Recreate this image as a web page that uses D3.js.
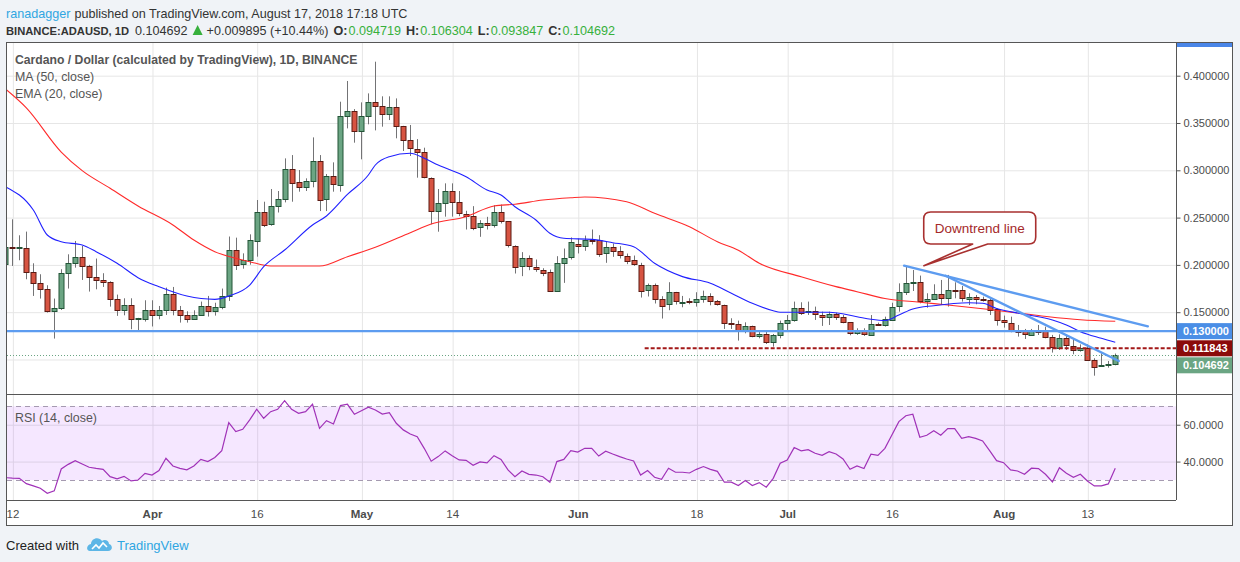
<!DOCTYPE html>
<html>
<head>
<meta charset="utf-8">
<script src="https://cdn.jsdelivr.net/npm/d3@7"></script>
<style>
  html, body { margin: 0; padding: 0; background: #f0f3f7; }
  svg { display: block; }
  text { font-family: "Liberation Sans", Arial, sans-serif; white-space: pre; }
</style>
</head>
<body>
<svg id="chart" width="1240" height="562"></svg>
<script>
// Bougies journalières ADA/USD : date, ouverture, plus haut, plus bas, clôture
const candles = [
  ["2018-03-11", 0.2014, 0.2225, 0.1985, 0.2190],
  ["2018-03-12", 0.2190, 0.2482, 0.1989, 0.2180],
  ["2018-03-13", 0.2180, 0.2313, 0.2049, 0.2185],
  ["2018-03-14", 0.2183, 0.2352, 0.1848, 0.1929],
  ["2018-03-15", 0.1929, 0.2017, 0.1672, 0.1813],
  ["2018-03-16", 0.1813, 0.1901, 0.1644, 0.1750],
  ["2018-03-17", 0.1750, 0.1785, 0.1496, 0.1517],
  ["2018-03-18", 0.1517, 0.1644, 0.1221, 0.1549],
  ["2018-03-19", 0.1545, 0.1954, 0.1524, 0.1919],
  ["2018-03-20", 0.1919, 0.2112, 0.1750, 0.2024],
  ["2018-03-21", 0.2024, 0.2253, 0.1971, 0.2088],
  ["2018-03-22", 0.2088, 0.2200, 0.1841, 0.1993],
  ["2018-03-23", 0.1993, 0.2000, 0.1718, 0.1876],
  ["2018-03-24", 0.1876, 0.2067, 0.1742, 0.1845],
  ["2018-03-25", 0.1845, 0.1912, 0.1767, 0.1820],
  ["2018-03-26", 0.1820, 0.1827, 0.1559, 0.1644],
  ["2018-03-27", 0.1644, 0.1686, 0.1461, 0.1527],
  ["2018-03-28", 0.1527, 0.1647, 0.1467, 0.1580],
  ["2018-03-29", 0.1580, 0.1647, 0.1320, 0.1432],
  ["2018-03-30", 0.1432, 0.1440, 0.1309, 0.1436],
  ["2018-03-31", 0.1432, 0.1626, 0.1401, 0.1527],
  ["2018-04-01", 0.1527, 0.1626, 0.1349, 0.1471],
  ["2018-04-02", 0.1471, 0.1566, 0.1425, 0.1527],
  ["2018-04-03", 0.1527, 0.1760, 0.1471, 0.1697],
  ["2018-04-04", 0.1697, 0.1767, 0.1467, 0.1527],
  ["2018-04-05", 0.1527, 0.1566, 0.1390, 0.1475],
  ["2018-04-06", 0.1475, 0.1510, 0.1390, 0.1432],
  ["2018-04-07", 0.1432, 0.1520, 0.1432, 0.1475],
  ["2018-04-08", 0.1475, 0.1612, 0.1471, 0.1570],
  ["2018-04-09", 0.1570, 0.1672, 0.1454, 0.1517],
  ["2018-04-10", 0.1517, 0.1600, 0.1464, 0.1560],
  ["2018-04-11", 0.1560, 0.1750, 0.1531, 0.1675],
  ["2018-04-12", 0.1675, 0.2300, 0.1619, 0.2158],
  ["2018-04-13", 0.2158, 0.2288, 0.1946, 0.2002],
  ["2018-04-14", 0.2002, 0.2122, 0.1960, 0.2048],
  ["2018-04-15", 0.2048, 0.2323, 0.2002, 0.2259],
  ["2018-04-16", 0.2259, 0.2686, 0.2087, 0.2562],
  ["2018-04-17", 0.2562, 0.2668, 0.2400, 0.2428],
  ["2018-04-18", 0.2428, 0.2802, 0.2414, 0.2619],
  ["2018-04-19", 0.2619, 0.2781, 0.2554, 0.2693],
  ["2018-04-20", 0.2693, 0.3126, 0.2661, 0.3010],
  ["2018-04-21", 0.3017, 0.3161, 0.2668, 0.2872],
  ["2018-04-22", 0.2872, 0.3003, 0.2774, 0.2820],
  ["2018-04-23", 0.2820, 0.2915, 0.2781, 0.2886],
  ["2018-04-24", 0.2886, 0.3348, 0.2820, 0.3094],
  ["2018-04-25", 0.3094, 0.3161, 0.2569, 0.2682],
  ["2018-04-26", 0.2689, 0.2961, 0.2569, 0.2936],
  ["2018-04-27", 0.2936, 0.3084, 0.2774, 0.2851],
  ["2018-04-28", 0.2837, 0.3725, 0.2774, 0.3570],
  ["2018-04-29", 0.3570, 0.3944, 0.3443, 0.3626],
  ["2018-04-30", 0.3626, 0.3647, 0.3292, 0.3412],
  ["2018-05-01", 0.3412, 0.3718, 0.3116, 0.3570],
  ["2018-05-02", 0.3570, 0.3813, 0.3486, 0.3718],
  ["2018-05-03", 0.3718, 0.4148, 0.3422, 0.3676],
  ["2018-05-04", 0.3676, 0.3782, 0.3461, 0.3591],
  ["2018-05-05", 0.3591, 0.3782, 0.3531, 0.3665],
  ["2018-05-06", 0.3665, 0.3760, 0.3338, 0.3468],
  ["2018-05-07", 0.3468, 0.3470, 0.3204, 0.3320],
  ["2018-05-08", 0.3320, 0.3479, 0.3151, 0.3232],
  ["2018-05-09", 0.3221, 0.3330, 0.2922, 0.3190],
  ["2018-05-10", 0.3190, 0.3239, 0.2915, 0.2922],
  ["2018-05-11", 0.2922, 0.2925, 0.2429, 0.2569],
  ["2018-05-12", 0.2569, 0.2802, 0.2351, 0.2650],
  ["2018-05-13", 0.2650, 0.2862, 0.2510, 0.2777],
  ["2018-05-14", 0.2777, 0.2862, 0.2510, 0.2660],
  ["2018-05-15", 0.2660, 0.2781, 0.2515, 0.2543],
  ["2018-05-16", 0.2543, 0.2572, 0.2374, 0.2522],
  ["2018-05-17", 0.2522, 0.2621, 0.2367, 0.2395],
  ["2018-05-18", 0.2395, 0.2473, 0.2297, 0.2438],
  ["2018-05-19", 0.2438, 0.2508, 0.2374, 0.2417],
  ["2018-05-20", 0.2417, 0.2631, 0.2395, 0.2554],
  ["2018-05-21", 0.2554, 0.2638, 0.2438, 0.2455],
  ["2018-05-22", 0.2459, 0.2462, 0.2184, 0.2205],
  ["2018-05-23", 0.2205, 0.2207, 0.1909, 0.1983],
  ["2018-05-24", 0.1983, 0.2135, 0.1881, 0.2068],
  ["2018-05-25", 0.2068, 0.2100, 0.1944, 0.1983],
  ["2018-05-26", 0.1973, 0.2057, 0.1927, 0.1951],
  ["2018-05-27", 0.1951, 0.1965, 0.1881, 0.1920],
  ["2018-05-28", 0.1923, 0.1951, 0.1715, 0.1719],
  ["2018-05-29", 0.1719, 0.2092, 0.1715, 0.2015],
  ["2018-05-30", 0.2015, 0.2173, 0.1810, 0.2068],
  ["2018-05-31", 0.2078, 0.2290, 0.2057, 0.2237],
  ["2018-06-01", 0.2226, 0.2279, 0.2121, 0.2205],
  ["2018-06-02", 0.2205, 0.2310, 0.2149, 0.2268],
  ["2018-06-03", 0.2268, 0.2374, 0.2216, 0.2254],
  ["2018-06-04", 0.2268, 0.2314, 0.2085, 0.2120],
  ["2018-06-05", 0.2120, 0.2244, 0.2022, 0.2184],
  ["2018-06-06", 0.2184, 0.2226, 0.2085, 0.2142],
  ["2018-06-07", 0.2142, 0.2198, 0.2068, 0.2099],
  ["2018-06-08", 0.2099, 0.2120, 0.2008, 0.2047],
  ["2018-06-09", 0.2047, 0.2099, 0.1990, 0.2001],
  ["2018-06-10", 0.2004, 0.2022, 0.1655, 0.1729],
  ["2018-06-11", 0.1729, 0.1803, 0.1666, 0.1786],
  ["2018-06-12", 0.1786, 0.1803, 0.1592, 0.1638],
  ["2018-06-13", 0.1638, 0.1669, 0.1433, 0.1567],
  ["2018-06-14", 0.1584, 0.1817, 0.1521, 0.1710],
  ["2018-06-15", 0.1710, 0.1715, 0.1581, 0.1611],
  ["2018-06-16", 0.1612, 0.1672, 0.1552, 0.1613],
  ["2018-06-17", 0.1619, 0.1647, 0.1584, 0.1605],
  ["2018-06-18", 0.1601, 0.1711, 0.1559, 0.1637],
  ["2018-06-19", 0.1637, 0.1728, 0.1601, 0.1668],
  ["2018-06-20", 0.1668, 0.1700, 0.1573, 0.1615],
  ["2018-06-21", 0.1615, 0.1629, 0.1570, 0.1584],
  ["2018-06-22", 0.1577, 0.1580, 0.1323, 0.1383],
  ["2018-06-23", 0.1386, 0.1436, 0.1323, 0.1372],
  ["2018-06-24", 0.1372, 0.1411, 0.1200, 0.1305],
  ["2018-06-25", 0.1305, 0.1393, 0.1277, 0.1351],
  ["2018-06-26", 0.1351, 0.1358, 0.1235, 0.1249],
  ["2018-06-27", 0.1245, 0.1290, 0.1224, 0.1266],
  ["2018-06-28", 0.1266, 0.1298, 0.1164, 0.1182],
  ["2018-06-29", 0.1182, 0.1270, 0.1136, 0.1259],
  ["2018-06-30", 0.1259, 0.1411, 0.1224, 0.1383],
  ["2018-07-01", 0.1383, 0.1470, 0.1312, 0.1414],
  ["2018-07-02", 0.1414, 0.1612, 0.1400, 0.1541],
  ["2018-07-03", 0.1541, 0.1605, 0.1471, 0.1489],
  ["2018-07-04", 0.1502, 0.1612, 0.1471, 0.1513],
  ["2018-07-05", 0.1513, 0.1559, 0.1418, 0.1478],
  ["2018-07-06", 0.1471, 0.1506, 0.1355, 0.1453],
  ["2018-07-07", 0.1446, 0.1506, 0.1365, 0.1481],
  ["2018-07-08", 0.1481, 0.1495, 0.1418, 0.1446],
  ["2018-07-09", 0.1446, 0.1470, 0.1383, 0.1393],
  ["2018-07-10", 0.1393, 0.1395, 0.1256, 0.1277],
  ["2018-07-11", 0.1277, 0.1330, 0.1260, 0.1312],
  ["2018-07-12", 0.1312, 0.1330, 0.1249, 0.1266],
  ["2018-07-13", 0.1259, 0.1470, 0.1249, 0.1376],
  ["2018-07-14", 0.1376, 0.1390, 0.1355, 0.1362],
  ["2018-07-15", 0.1362, 0.1453, 0.1348, 0.1425],
  ["2018-07-16", 0.1425, 0.1600, 0.1418, 0.1559],
  ["2018-07-17", 0.1559, 0.1805, 0.1506, 0.1710],
  ["2018-07-18", 0.1710, 0.1992, 0.1682, 0.1805],
  ["2018-07-19", 0.1805, 0.1946, 0.1724, 0.1816],
  ["2018-07-20", 0.1816, 0.1887, 0.1594, 0.1612],
  ["2018-07-21", 0.1612, 0.1700, 0.1548, 0.1636],
  ["2018-07-22", 0.1636, 0.1795, 0.1629, 0.1689],
  ["2018-07-23", 0.1689, 0.1841, 0.1576, 0.1647],
  ["2018-07-24", 0.1647, 0.1894, 0.1559, 0.1731],
  ["2018-07-25", 0.1735, 0.1816, 0.1647, 0.1724],
  ["2018-07-26", 0.1731, 0.1777, 0.1612, 0.1647],
  ["2018-07-27", 0.1636, 0.1700, 0.1576, 0.1657],
  ["2018-07-28", 0.1657, 0.1682, 0.1584, 0.1636],
  ["2018-07-29", 0.1640, 0.1664, 0.1612, 0.1626],
  ["2018-07-30", 0.1629, 0.1654, 0.1470, 0.1524],
  ["2018-07-31", 0.1531, 0.1541, 0.1358, 0.1414],
  ["2018-08-01", 0.1414, 0.1464, 0.1337, 0.1390],
  ["2018-08-02", 0.1390, 0.1453, 0.1288, 0.1302],
  ["2018-08-03", 0.1309, 0.1365, 0.1242, 0.1284],
  ["2018-08-04", 0.1302, 0.1323, 0.1217, 0.1266],
  ["2018-08-05", 0.1256, 0.1323, 0.1252, 0.1302],
  ["2018-08-06", 0.1302, 0.1365, 0.1259, 0.1291],
  ["2018-08-07", 0.1302, 0.1347, 0.1224, 0.1235],
  ["2018-08-08", 0.1235, 0.1260, 0.1073, 0.1125],
  ["2018-08-09", 0.1125, 0.1266, 0.1101, 0.1231],
  ["2018-08-10", 0.1224, 0.1266, 0.1101, 0.1150],
  ["2018-08-11", 0.1143, 0.1224, 0.1055, 0.1097],
  ["2018-08-12", 0.1097, 0.1160, 0.1083, 0.1118],
  ["2018-08-13", 0.1118, 0.1160, 0.0984, 0.0995],
  ["2018-08-14", 0.0998, 0.1013, 0.0829, 0.0925],
  ["2018-08-15", 0.0935, 0.1066, 0.0925, 0.0946],
  ["2018-08-16", 0.0946, 0.0984, 0.0914, 0.0949],
  ["2018-08-17", 0.094719, 0.106304, 0.093847, 0.104692]
];

// Moyenne mobile 50 jours
const ma50 = [
  ["2018-03-11", 0.386], ["2018-03-14", 0.366], ["2018-03-19", 0.3193], ["2018-03-22", 0.2996],
  ["2018-03-26", 0.281], ["2018-03-30", 0.2623], ["2018-04-04", 0.2422], ["2018-04-07", 0.2263],
  ["2018-04-10", 0.214], ["2018-04-13", 0.207], ["2018-04-15", 0.2034], ["2018-04-18", 0.1988],
  ["2018-04-25", 0.1988], ["2018-04-29", 0.2087], ["2018-05-03", 0.2186], ["2018-05-08", 0.234],
  ["2018-05-11", 0.2432], ["2018-05-16", 0.251], ["2018-05-20", 0.2623], ["2018-05-23", 0.2641],
  ["2018-05-27", 0.2686], ["2018-05-31", 0.271], ["2018-06-02", 0.2718], ["2018-06-08", 0.2668],
  ["2018-06-12", 0.2545], ["2018-06-17", 0.2404], ["2018-06-21", 0.2245], ["2018-06-24", 0.2155],
  ["2018-06-27", 0.2017], ["2018-07-03", 0.1875], ["2018-07-08", 0.177], ["2018-07-11", 0.1717],
  ["2018-07-15", 0.1645], ["2018-07-20", 0.1605], ["2018-07-24", 0.1576], ["2018-07-30", 0.1528],
  ["2018-08-06", 0.1465], ["2018-08-12", 0.142], ["2018-08-17", 0.1404]
];

// Moyenne mobile exponentielle 20 jours
const ema20 = [
  ["2018-03-11", 0.2827], ["2018-03-15", 0.258], ["2018-03-17", 0.2316], ["2018-03-19", 0.2245],
  ["2018-03-22", 0.221], ["2018-03-24", 0.214], ["2018-03-27", 0.2017], ["2018-03-30", 0.1865],
  ["2018-04-02", 0.177], ["2018-04-06", 0.1671], ["2018-04-10", 0.1636], ["2018-04-12", 0.1671],
  ["2018-04-15", 0.1787], ["2018-04-17", 0.1981], ["2018-04-20", 0.2157], ["2018-04-24", 0.2422],
  ["2018-04-26", 0.2517], ["2018-04-29", 0.2745], ["2018-05-02", 0.295], ["2018-05-03", 0.3056],
  ["2018-05-05", 0.3144], ["2018-05-08", 0.318], ["2018-05-10", 0.3127], ["2018-05-12", 0.3056],
  ["2018-05-16", 0.2932], ["2018-05-19", 0.2792], ["2018-05-21", 0.2739], ["2018-05-23", 0.2615],
  ["2018-05-26", 0.2475], ["2018-05-28", 0.2334], ["2018-05-30", 0.2281], ["2018-06-03", 0.227],
  ["2018-06-06", 0.2235], ["2018-06-09", 0.2192], ["2018-06-12", 0.2017], ["2018-06-16", 0.1876],
  ["2018-06-20", 0.1806], ["2018-06-23", 0.17], ["2018-06-26", 0.1594], ["2018-06-29", 0.1515],
  ["2018-06-30", 0.1499], ["2018-07-07", 0.1499], ["2018-07-11", 0.1452], ["2018-07-13", 0.1425],
  ["2018-07-15", 0.1412], ["2018-07-17", 0.147], ["2018-07-19", 0.1534], ["2018-07-22", 0.1569],
  ["2018-07-27", 0.16], ["2018-07-29", 0.1594], ["2018-07-31", 0.154], ["2018-08-04", 0.1478],
  ["2018-08-08", 0.1418], ["2018-08-10", 0.1365], ["2018-08-12", 0.1294], ["2018-08-15", 0.1224],
  ["2018-08-17", 0.1182]
];

// RSI (14) journalier, du 11 mars au 17 août
const rsiStart = "2018-03-11";
const rsi14 = [
  31.3, 31.0, 30.9, 28.0, 26.8, 25.5, 22.8, 24.1, 36.0, 38.5, 40.5, 38.7, 36.9, 36.3, 35.8, 31.8, 30.6, 32.0, 29.5, 30.0, 33.6,
  32.7, 35.1, 41.8, 37.6, 36.3, 35.5, 37.6, 41.2, 40.0, 42.2, 45.9, 61.1, 56.3, 57.5, 62.6, 68.4, 63.5, 67.1, 68.4, 73.1,
  68.4, 66.2, 67.1, 71.1, 58.0, 62.2, 60.4, 70.4, 71.1, 65.7,
  67.6, 69.5, 68.0, 65.8, 66.6, 60.8, 57.2, 55.0, 53.5, 47.2, 40.2, 42.7, 45.8, 43.2, 40.9, 40.7, 38.0, 39.8, 39.3, 43.2,
  41.2, 35.5, 31.8, 34.9, 33.1, 32.7, 31.8, 28.8, 40.0, 41.2, 45.9,
  45.2, 47.2, 47.2, 43.0, 45.6, 44.1, 42.7, 41.4, 40.3, 32.7, 35.1, 31.5, 30.4, 36.4, 34.2, 34.2, 33.8, 35.8, 37.3, 35.8,
  34.7, 28.8, 28.8, 27.0, 29.7, 27.0, 28.6, 26.1, 30.9, 39.1,
  40.9, 47.6, 45.8, 46.5, 44.5, 43.4, 45.4, 44.1, 41.4, 35.8, 37.6, 36.2, 44.0, 43.4, 47.2, 54.4, 61.7, 64.9, 65.7, 53.2,
  54.3, 56.8, 54.3, 57.9, 57.9, 52.6, 53.5, 52.6, 51.2, 45.9, 40.5,
  39.4, 35.5, 34.9, 33.1, 36.4, 36.2, 33.1, 29.0, 36.7, 33.7, 31.5, 33.1, 29.5, 26.8, 26.8, 27.9, 36.4
];

// Axes
const timeTicks = ["2018-03-12", "2018-04-01", "2018-04-16", "2018-05-01", "2018-05-14", "2018-06-01",
                   "2018-06-18", "2018-07-01", "2018-07-16", "2018-08-01", "2018-08-13"];
const timeLabels = ["12", "Apr", "16", "May", "14", "Jun", "18", "Jul", "16", "Aug", "13"];
const monthLabels = ["Apr", "May", "Jun", "Jul", "Aug"];
const priceGrid = [0.10, 0.15, 0.20, 0.25, 0.30, 0.35, 0.40];
const priceTicks = [0.15, 0.20, 0.25, 0.30, 0.35, 0.40];
const rsiTicks = [40, 60];
const rsiBand = [30, 70];

// Tracés manuels
const supportLevel = 0.13;
const breakdownLevel = 0.111843;
const breakdownFrom = "2018-06-10T14:00:00Z";
const lastClose = 0.104692;
const trendLines = [
  [["2018-07-17T18:00:00Z", 0.1992], ["2018-08-21T16:00:00Z", 0.1351]],
  [["2018-07-23T17:00:00Z", 0.1885], ["2018-08-17T12:00:00Z", 0.0984]]
];
const calloutText = "Downtrend line";
const calloutTip = ["2018-07-20T14:00:00Z", 0.1992];
const calloutBox = ["2018-07-28T14:00:00Z", 0.239];

// Couleurs
const upFill = "#6ba583", upLine = "#225437";
const downFill = "#d75442", downLine = "#5b1a13";
const wickColor = "#737375";
const drawBlue = "#5d9cf0";
const greenTxt = "#37b03c";

const svg = d3.select("#chart");

// Géométrie
const frame = { left: 6, top: 42, right: 1233, bottom: 526 };
const plotLeft = 7, plotRight = 1176;
const mainTop = 42, mainBottom = 394, rsiBottom = 500;

const x = d3.scaleUtc()
  .domain([d3.isoParse("2018-03-11T05:30:00Z"), d3.isoParse("2018-08-25T16:50:00Z")])
  .range([plotLeft, plotRight]);
const y = d3.scaleLinear().domain([0.06353, 0.43562]).range([mainBottom, mainTop]);
const yRsi = d3.scaleLinear().domain([19.15, 76.68]).range([rsiBottom, mainBottom]);

const day = d3.utcParse("%Y-%m-%d");
const bars = candles.map(([d, o, h, l, c]) => ({ date: day(d), o, h, l, c }));
const maPts = ma50.map(([d, v]) => ({ date: day(d), v }));
const emaPts = ema20.map(([d, v]) => ({ date: day(d), v }));
const rsiPts = rsi14.map((v, i) => ({ date: d3.utcDay.offset(day(rsiStart), i), v }));

// Fond du graphique
svg.append("rect")
  .attr("x", frame.left + 0.5).attr("y", frame.top + 0.5)
  .attr("width", frame.right - frame.left - 1).attr("height", frame.bottom - frame.top - 1)
  .attr("fill", "#fff");

const defs = svg.append("defs");
defs.append("clipPath").attr("id", "clipMain").append("rect")
  .attr("x", plotLeft).attr("y", mainTop).attr("width", plotRight - plotLeft).attr("height", mainBottom - mainTop);
defs.append("clipPath").attr("id", "clipRsi").append("rect")
  .attr("x", plotLeft).attr("y", mainBottom).attr("width", plotRight - plotLeft).attr("height", rsiBottom - mainBottom);

// Grille verticale (deux panneaux)
svg.append("g")
  .attr("class", "grid")
  .attr("transform", `translate(0,${rsiBottom})`)
  .call(d3.axisBottom(x).tickValues(timeTicks.map(day)).tickSize(-(rsiBottom - mainTop)).tickFormat(""))
  .call(g => g.select(".domain").remove())
  .call(g => g.selectAll("line").attr("stroke", "#e6e6e6").attr("transform", "translate(0.5,0)"));

// Grille horizontale du prix
svg.append("g")
  .attr("transform", `translate(${plotLeft},0)`)
  .call(d3.axisLeft(y).tickValues(priceGrid).tickSize(-(plotRight - plotLeft)).tickFormat(""))
  .call(g => g.select(".domain").remove())
  .call(g => g.selectAll("line").attr("stroke", "#e6e6e6"));

// Panneau RSI : bande 30-70
svg.append("rect")
  .attr("x", plotLeft).attr("width", plotRight - plotLeft)
  .attr("y", yRsi(rsiBand[1])).attr("height", yRsi(rsiBand[0]) - yRsi(rsiBand[1]))
  .attr("fill", "#9915ff").attr("fill-opacity", 0.1);

svg.append("g")
  .attr("transform", `translate(${plotLeft},0)`)
  .call(d3.axisLeft(yRsi).tickValues(rsiTicks).tickSize(-(plotRight - plotLeft)).tickFormat(""))
  .call(g => g.select(".domain").remove())
  .call(g => g.selectAll("line").attr("stroke", "#dcd0e6"));

svg.selectAll("line.band").data(rsiBand).join("line")
  .attr("class", "band")
  .attr("x1", plotLeft).attr("x2", plotRight)
  .attr("y1", d => Math.round(yRsi(d)) + 0.5).attr("y2", d => Math.round(yRsi(d)) + 0.5)
  .attr("stroke", "#a59ab0").attr("stroke-dasharray", "5,4");

// Bougies
const main = svg.append("g").attr("clip-path", "url(#clipMain)");
const px = d => Math.round(x(d.date)) + 0.5;

main.selectAll("line.wick").data(bars).join("line")
  .attr("class", "wick")
  .attr("x1", px).attr("x2", px)
  .attr("y1", d => y(d.h)).attr("y2", d => y(d.l))
  .attr("stroke", wickColor).attr("stroke-width", 1);

main.selectAll("rect.body").data(bars).join("rect")
  .attr("class", "body")
  .attr("x", d => px(d) - 2.5)
  .attr("width", 5)
  .attr("y", d => Math.round(y(Math.max(d.o, d.c))) + 0.5)
  .attr("height", d => Math.max(1, Math.round(Math.abs(y(d.o) - y(d.c)))))
  .attr("fill", d => d.c >= d.o ? upFill : downFill)
  .attr("stroke", d => d.c >= d.o ? upLine : downLine)
  .attr("stroke-width", 1);

// Moyennes mobiles
const avgLine = d3.line().x(d => x(d.date)).y(d => y(d.v)).curve(d3.curveMonotoneX);
main.append("path").datum(maPts).attr("d", avgLine)
  .attr("fill", "none").attr("stroke", "#ff2a2a").attr("stroke-width", 1.1);
main.append("path").datum(emaPts).attr("d", avgLine)
  .attr("fill", "none").attr("stroke", "#2020ff").attr("stroke-width", 1.1);

// Dernier cours (pointillés)
main.append("line")
  .attr("x1", plotLeft).attr("x2", plotRight)
  .attr("y1", Math.round(y(lastClose)) + 0.5).attr("y2", Math.round(y(lastClose)) + 0.5)
  .attr("stroke", upFill).attr("stroke-dasharray", "1,2");

// Support horizontal à 0.13
main.append("line")
  .attr("x1", plotLeft).attr("x2", plotRight)
  .attr("y1", y(supportLevel)).attr("y2", y(supportLevel))
  .attr("stroke", drawBlue).attr("stroke-width", 2.2);

// Niveau cassé
main.append("line")
  .attr("x1", x(d3.isoParse(breakdownFrom))).attr("x2", plotRight)
  .attr("y1", y(breakdownLevel)).attr("y2", y(breakdownLevel))
  .attr("stroke", "#a31818").attr("stroke-width", 2).attr("stroke-dasharray", "4,2");

// Lignes de tendance
main.selectAll("line.trend").data(trendLines).join("line")
  .attr("class", "trend")
  .attr("x1", d => x(d3.isoParse(d[0][0]))).attr("y1", d => y(d[0][1]))
  .attr("x2", d => x(d3.isoParse(d[1][0]))).attr("y2", d => y(d[1][1]))
  .attr("stroke", drawBlue).attr("stroke-width", 2.4).attr("stroke-linecap", "round");

// Bulle "Downtrend line"
{
  const tx = x(d3.isoParse(calloutTip[0])), ty = y(calloutTip[1]);
  const cx = x(d3.isoParse(calloutBox[0])), cy = y(calloutBox[1]);
  const w = 112, h = 32, r = 7;
  const L = cx - w / 2, R = cx + w / 2, T = cy - h / 2, B = cy + h / 2;
  const path = `M${L + r},${T} H${R - r} Q${R},${T} ${R},${T + r} V${B - r} Q${R},${B} ${R - r},${B}
    H${cx + 8} L${tx},${ty} L${cx - 7},${B} H${L + r} Q${L},${B} ${L},${B - r} V${T + r} Q${L},${T} ${L + r},${T} Z`;
  svg.append("path").attr("d", path)
    .attr("fill", "#fff").attr("stroke", "#a8302f").attr("stroke-width", 1.6).attr("stroke-linejoin", "round");
  svg.append("text").attr("x", cx).attr("y", cy + 5)
    .attr("text-anchor", "middle").attr("fill", "#a52a2a").style("font-size", "13.5px")
    .text(calloutText);
}

// Ligne RSI
svg.append("g").attr("clip-path", "url(#clipRsi)")
  .append("path").datum(rsiPts)
  .attr("d", d3.line().x(d => x(d.date)).y(d => yRsi(d.v)))
  .attr("fill", "none").attr("stroke", "#a032b8").attr("stroke-width", 1.2);

// Bordures et séparateurs
const edge = "#565656";
svg.append("rect")
  .attr("x", frame.left + 0.5).attr("y", frame.top + 0.5)
  .attr("width", frame.right - frame.left - 1).attr("height", frame.bottom - frame.top - 1)
  .attr("fill", "none").attr("stroke", edge);
svg.append("line").attr("x1", plotRight + 0.5).attr("x2", plotRight + 0.5)
  .attr("y1", frame.top).attr("y2", rsiBottom).attr("stroke", edge);
svg.append("line").attr("x1", frame.left).attr("x2", frame.right)
  .attr("y1", mainBottom + 0.5).attr("y2", mainBottom + 0.5).attr("stroke", edge);
svg.append("line").attr("x1", frame.left).attr("x2", plotRight)
  .attr("y1", rsiBottom + 0.5).attr("y2", rsiBottom + 0.5).attr("stroke", edge);

// Barre bleue en haut de l'échelle
svg.append("rect").attr("x", plotRight + 1).attr("y", frame.top + 1)
  .attr("width", frame.right - plotRight - 2).attr("height", 4).attr("fill", "#4a86e8");

// Échelle des prix
svg.append("g")
  .attr("transform", `translate(${plotRight + 0.5},0)`)
  .call(d3.axisRight(y).tickValues(priceTicks).tickFormat(d3.format(".6f")).tickSize(4).tickPadding(3))
  .call(g => g.select(".domain").remove())
  .call(g => g.selectAll("line").attr("stroke", edge))
  .call(g => g.selectAll("text").attr("fill", "#4c4c4c").style("font-size", "11px")
    .style("font-family", "'Liberation Sans', Arial, sans-serif"));

// Échelle RSI
svg.append("g")
  .attr("transform", `translate(${plotRight + 0.5},0)`)
  .call(d3.axisRight(yRsi).tickValues(rsiTicks).tickFormat(d3.format(".4f")).tickSize(4).tickPadding(3))
  .call(g => g.select(".domain").remove())
  .call(g => g.selectAll("line").attr("stroke", edge))
  .call(g => g.selectAll("text").attr("fill", "#4c4c4c").style("font-size", "11px")
    .style("font-family", "'Liberation Sans', Arial, sans-serif"));

// Étiquettes de prix (décalées pour ne pas se chevaucher)
const badges = [
  { v: supportLevel, fill: "#4a8ee6" },
  { v: breakdownLevel, fill: "#8b0a0a" },
  { v: lastClose, fill: upFill }
];
let prevY = -Infinity;
badges.forEach(b => {
  const by = Math.max(y(b.v), prevY + 17);
  prevY = by;
  svg.append("rect").attr("x", plotRight + 1).attr("y", by - 8)
    .attr("width", frame.right - plotRight - 2).attr("height", 16).attr("fill", b.fill);
  svg.append("text").attr("x", plotRight + 7).attr("y", by + 4)
    .attr("fill", "#fff").style("font-size", "11px").style("font-weight", "bold")
    .text(d3.format(".6f")(b.v));
});

// Axe du temps
svg.append("g")
  .attr("transform", `translate(0,${rsiBottom})`)
  .call(d3.axisBottom(x).tickValues(timeTicks.map(day)).tickSize(0).tickPadding(10)
    .tickFormat((d, i) => timeLabels[i]))
  .call(g => g.select(".domain").remove())
  .call(g => g.selectAll("text")
    .attr("fill", "#4c4c4c").style("font-size", "11.5px")
    .style("font-family", "'Liberation Sans', Arial, sans-serif")
    .style("font-weight", (d, i) => monthLabels.includes(timeLabels[i]) ? "bold" : "normal"));

// Légendes dans le graphique
svg.append("text").attr("x", 15).attr("y", 64).attr("fill", "#555")
  .style("font-size", "12.2px").style("font-weight", "bold")
  .text("Cardano / Dollar (calculated by TradingView), 1D, BINANCE");
svg.append("text").attr("x", 15).attr("y", 81).attr("fill", "#555").style("font-size", "12.4px")
  .text("MA (50, close)");
svg.append("text").attr("x", 15).attr("y", 98).attr("fill", "#555").style("font-size", "12.4px")
  .text("EMA (20, close)");
svg.append("text").attr("x", 15).attr("y", 422).attr("fill", "#555").style("font-size", "12.4px")
  .text("RSI (14, close)");

// En-tête : segments posés les uns après les autres
function writeLine(yy, parts) {
  let cx = 6;
  parts.forEach(p => {
    cx += p.gap || 0;
    if (p.triangle) {
      svg.append("path").attr("d", `M${cx},${yy} L${cx + 5},${yy - 10} L${cx + 10},${yy} Z`).attr("fill", greenTxt);
      cx += 10;
      return;
    }
    const t = svg.append("text").attr("x", cx).attr("y", yy)
      .attr("fill", p.fill || "#333")
      .style("font-size", (p.size || 12.6) + "px")
      .style("font-weight", p.bold ? "bold" : "normal")
      .text(p.text);
    cx += t.node().getComputedTextLength();
  });
}
writeLine(18, [
  { text: "ranadagger", fill: "#2fa6e2" },
  { text: "published on TradingView.com, August 17, 2018 17:18 UTC", gap: 4 }
]);
writeLine(35, [
  { text: "BINANCE:ADAUSD, 1D", bold: true, size: 11.2 },
  { text: "0.104692", gap: 6 },
  { triangle: true, gap: 5 },
  { text: "+0.009895 (+10.44%)", gap: 4 },
  { text: "O:", bold: true, gap: 5 }, { text: "0.094719", fill: greenTxt, gap: 1 },
  { text: "H:", bold: true, gap: 5 }, { text: "0.106304", fill: greenTxt, gap: 1 },
  { text: "L:", bold: true, gap: 5 }, { text: "0.093847", fill: greenTxt, gap: 1 },
  { text: "C:", bold: true, gap: 5 }, { text: "0.104692", fill: greenTxt, gap: 1 }
]);

// Pied de page
svg.append("text").attr("x", 6).attr("y", 550).attr("fill", "#222").style("font-size", "13px")
  .text("Created with");
svg.append("path")
  .attr("d", "M90,551 C86,551 86,545 91,544 C91,538 99,536 102,541 C104,539 109,540 109,544 C113,545 113,551 108,551 Z")
  .attr("fill", "#5db6e6");
svg.append("path").attr("d", "M92,549 L96,545 L99,548 L103,543 L107,547")
  .attr("fill", "none").attr("stroke", "#fff").attr("stroke-width", 1.6);
svg.append("text").attr("x", 117).attr("y", 550).attr("fill", "#2fa6e2").style("font-size", "13px")
  .text("TradingView");
</script>
</body>
</html>
